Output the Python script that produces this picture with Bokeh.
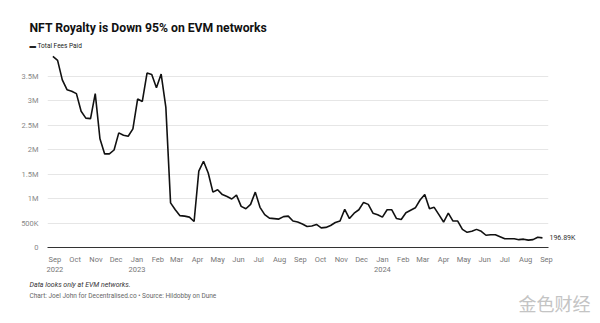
import pandas as pd
from datetime import datetime
from bokeh.plotting import figure
from bokeh.models import (Range1d, FixedTicker, CustomJSTickFormatter, Title,
                          LinearAxis)
from bokeh.embed import file_html
from bokeh.resources import INLINE

# ---- data (weekly) ----
start_week = "2022-08-29"
fees = [3.90, 3.82, 3.42, 3.22, 3.19, 3.14, 2.78, 2.64, 2.63, 3.14,
        2.22, 1.91, 1.91, 1.99, 2.34, 2.29, 2.27, 2.42, 3.03, 2.98,
        3.56, 3.53, 3.26, 3.54, 2.86, 0.91, 0.77, 0.65, 0.64, 0.62,
        0.53, 1.56, 1.76, 1.52, 1.13, 1.18, 1.08, 1.04, 0.99, 1.07,
        0.84, 0.79, 0.88, 1.13, 0.82, 0.67, 0.60, 0.59, 0.58, 0.63,
        0.64, 0.54, 0.52, 0.48, 0.43, 0.44, 0.47, 0.40, 0.41, 0.45,
        0.51, 0.54, 0.78, 0.59, 0.70, 0.77, 0.92, 0.88, 0.70, 0.67,
        0.62, 0.77, 0.77, 0.59, 0.57, 0.71, 0.76, 0.81, 0.97, 1.08,
        0.79, 0.82, 0.67, 0.52, 0.70, 0.54, 0.54, 0.37, 0.31, 0.33,
        0.37, 0.33, 0.25, 0.26, 0.26, 0.22, 0.18, 0.18, 0.18, 0.16,
        0.17, 0.15, 0.16, 0.21, 0.19689]
fees_usd = [v * 1e6 for v in fees]
dates = list(pd.date_range(start_week, periods=len(fees), freq="7D"))

y_ticks = [0, 500000, 1000000, 1500000, 2000000, 2500000, 3000000, 3500000]
y_labels = ["0", "500K", "1M", "1.5M", "2M", "2.5M", "3M", "3.5M"]
month_ticks = list(pd.date_range("2022-09-01", "2024-09-01", freq="MS"))
last_label = "196.89K"

title_text = "NFT Royalty is Down 95% on EVM networks"
series_name = "Total Fees Paid"
note_text = "Data looks only at EVM networks."
credit_text = "Chart: Joel John for Decentralised.co \u2022 Source: Hildobby on Dune"
watermark = "金色财经"

FONT = "Roboto"

p = figure(width=600, height=323, x_axis_type="datetime",
           output_backend="svg", toolbar_location=None,
           min_border_left=47, min_border_right=52,
           min_border_top=51, min_border_bottom=76)
p.outline_line_color = None
p.background_fill_color = "white"
p.border_fill_color = "white"
p.x_range = Range1d(datetime(2022, 8, 21), datetime(2024, 9, 4))
p.y_range = Range1d(0, 4000000)

line = p.line(dates, fees_usd, line_color="#111111", line_width=1.6)

# y axis
p.yaxis.ticker = FixedTicker(ticks=y_ticks)
p.yaxis.major_label_overrides = dict(zip(y_ticks, y_labels))
p.yaxis.axis_line_color = None
p.yaxis.major_tick_line_color = None
p.yaxis.minor_tick_line_color = None
p.yaxis.major_label_standoff = 3
p.yaxis.major_label_text_font = FONT
p.yaxis.major_label_text_font_size = "7.5px"
p.yaxis.major_label_text_color = "#888888"
p.ygrid.grid_line_color = "#e6e6e6"
p.ygrid.ticker = FixedTicker(ticks=y_ticks[1:])
p.xgrid.grid_line_color = None

# end value label as a right-side axis tick
end_axis = LinearAxis(ticker=FixedTicker(ticks=[fees_usd[-1]]),
                      major_label_overrides={fees_usd[-1]: last_label},
                      axis_line_color=None, major_tick_line_color=None,
                      minor_tick_line_color=None, major_label_standoff=-5,
                      major_label_text_font=FONT,
                      major_label_text_font_size="7px",
                      major_label_text_color="#333333")
p.add_layout(end_axis, "right")

# x axis
tick_ms = [t.value // 10**6 for t in month_ticks]
p.xaxis.ticker = FixedTicker(ticks=tick_ms)
p.xaxis.formatter = CustomJSTickFormatter(args=dict(first=tick_ms[0]), code="""
const names = ["Jan","Feb","Mar","Apr","May","Jun","Jul","Aug","Sep","Oct","Nov","Dec"];
const d = new Date(tick);
const m = d.getUTCMonth();
let s = names[m];
if (m == 0 || tick == first) { s += "\\n" + d.getUTCFullYear(); }
return s;
""")
p.xaxis.axis_line_color = "#333333"
p.xaxis.axis_line_width = 1
p.xaxis.major_tick_line_color = None
p.xaxis.minor_tick_line_color = None
p.xaxis.major_label_standoff = 1
p.xaxis.major_label_text_font = FONT
p.xaxis.major_label_text_font_size = "7.5px"
p.xaxis.major_label_text_color = "#777777"

# legend line (as a title row above the frame)
p.add_layout(Title(text="\u25ac " + series_name, align="left", offset=-18,
                   text_font=FONT, text_font_style="normal",
                   text_font_size="6.5px", text_color="#222222", standoff=4),
             "above")

# title
p.title.text = title_text
p.title.align = "left"
p.title.offset = -18
p.title.text_font = FONT
p.title.text_font_style = "bold"
p.title.text_font_size = "12.2px"
p.title.text_color = "#111111"
p.title.standoff = 6

# notes below
p.add_layout(Title(text=note_text, align="left", offset=-18, text_font=FONT,
                   text_font_style="italic", text_font_size="7px",
                   text_color="#333333", standoff=3), "below")
p.add_layout(Title(text=credit_text, align="left", offset=-18, text_font=FONT,
                   text_font_style="normal", text_font_size="6.5px",
                   text_color="#666666", standoff=-2), "below")
p.add_layout(Title(text=watermark, align="right", offset=-42,
                   text_font="Noto Sans CJK SC", text_font_style="normal",
                   text_font_size="18px", text_color="#c4c4c4", standoff=-21),
             "below")

open("out.html", "w").write(file_html(p, INLINE))
